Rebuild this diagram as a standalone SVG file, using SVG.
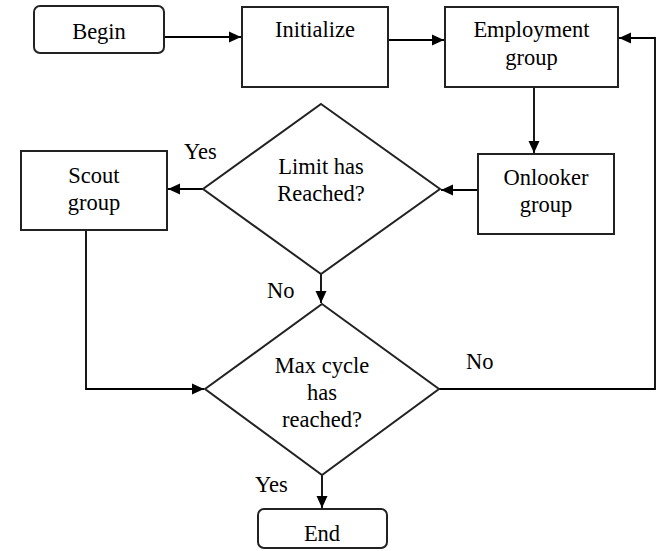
<svg xmlns="http://www.w3.org/2000/svg" width="661" height="551" viewBox="0 0 661 551">
  <defs>
    <marker id="arr" markerUnits="userSpaceOnUse" markerWidth="13" markerHeight="12" refX="12" refY="6" orient="auto">
      <path d="M0,0.5 L12,6 L0,11.5 z" fill="#000"/>
    </marker>
  </defs>
  <rect width="661" height="551" fill="#fff"/>

  <g id="connectors" fill="none" stroke="#000" stroke-width="1.8" marker-end="url(#arr)">
    <path d="M164,37 L241,37"/>
    <path d="M388,40 L444,40"/>
    <path d="M534,87 L534,153"/>
    <path d="M478,190 L441,190"/>
    <path d="M203,189 L168,189"/>
    <path d="M321,274 L321,303"/>
    <path d="M86,230 L86,389 L204,389"/>
    <path d="M439,389 L655,389 L655,38 L619,38"/>
    <path d="M322,475 L322,508"/>
  </g>
  <g id="labels" font-family="Liberation Serif" font-size="22.5" fill="#000">
    <text x="184" y="159">Yes</text>
    <text x="267" y="298">No</text>
    <text x="466" y="369">No</text>
    <text x="255" y="492">Yes</text>
  </g>

  <g id="nodes">
    <g id="begin">
      <rect x="34" y="6" width="130" height="47" rx="6" fill="#fff" stroke="#222" stroke-width="2"/>
      <text x="99" y="39" font-family="Liberation Serif" font-size="22.5" text-anchor="middle">Begin</text>
    </g>
    <g id="initialize">
      <rect x="242" y="7" width="146" height="80" fill="#fff" stroke="#222" stroke-width="2"/>
      <text x="315" y="37" font-family="Liberation Serif" font-size="22.5" text-anchor="middle">Initialize</text>
    </g>
    <g id="employment">
      <rect x="445" y="7" width="173" height="80" fill="#fff" stroke="#222" stroke-width="2"/>
      <text x="531.5" y="37" font-family="Liberation Serif" font-size="22.5" text-anchor="middle">Employment</text>
      <text x="531.5" y="65" font-family="Liberation Serif" font-size="22.5" text-anchor="middle">group</text>
    </g>
    <g id="onlooker">
      <rect x="478" y="154" width="136" height="80" fill="#fff" stroke="#222" stroke-width="2"/>
      <text x="546" y="185" font-family="Liberation Serif" font-size="22.5" text-anchor="middle">Onlooker</text>
      <text x="546" y="212" font-family="Liberation Serif" font-size="22.5" text-anchor="middle">group</text>
    </g>
    <g id="limit">
      <polygon points="321,104 440,189 321,274 203,189" fill="#fff" stroke="#222" stroke-width="2"/>
      <text x="321" y="174" font-family="Liberation Serif" font-size="22.5" text-anchor="middle">Limit has</text>
      <text x="321" y="201" font-family="Liberation Serif" font-size="22.5" text-anchor="middle">Reached?</text>
    </g>
    <g id="scout">
      <rect x="21" y="151" width="146" height="79" fill="#fff" stroke="#222" stroke-width="2"/>
      <text x="94" y="183" font-family="Liberation Serif" font-size="22.5" text-anchor="middle">Scout</text>
      <text x="94" y="210" font-family="Liberation Serif" font-size="22.5" text-anchor="middle">group</text>
    </g>
    <g id="maxcycle">
      <polygon points="322,304 439,389 322,475 205,389" fill="#fff" stroke="#222" stroke-width="2"/>
      <text x="322" y="373" font-family="Liberation Serif" font-size="22.5" text-anchor="middle">Max cycle</text>
      <text x="322" y="400" font-family="Liberation Serif" font-size="22.5" text-anchor="middle">has</text>
      <text x="322" y="427" font-family="Liberation Serif" font-size="22.5" text-anchor="middle">reached?</text>
    </g>
    <g id="end">
      <rect x="258" y="509" width="129" height="39" rx="6" fill="#fff" stroke="#222" stroke-width="2"/>
      <text x="322" y="541" font-family="Liberation Serif" font-size="22.5" text-anchor="middle">End</text>
    </g>
  </g>
</svg>
